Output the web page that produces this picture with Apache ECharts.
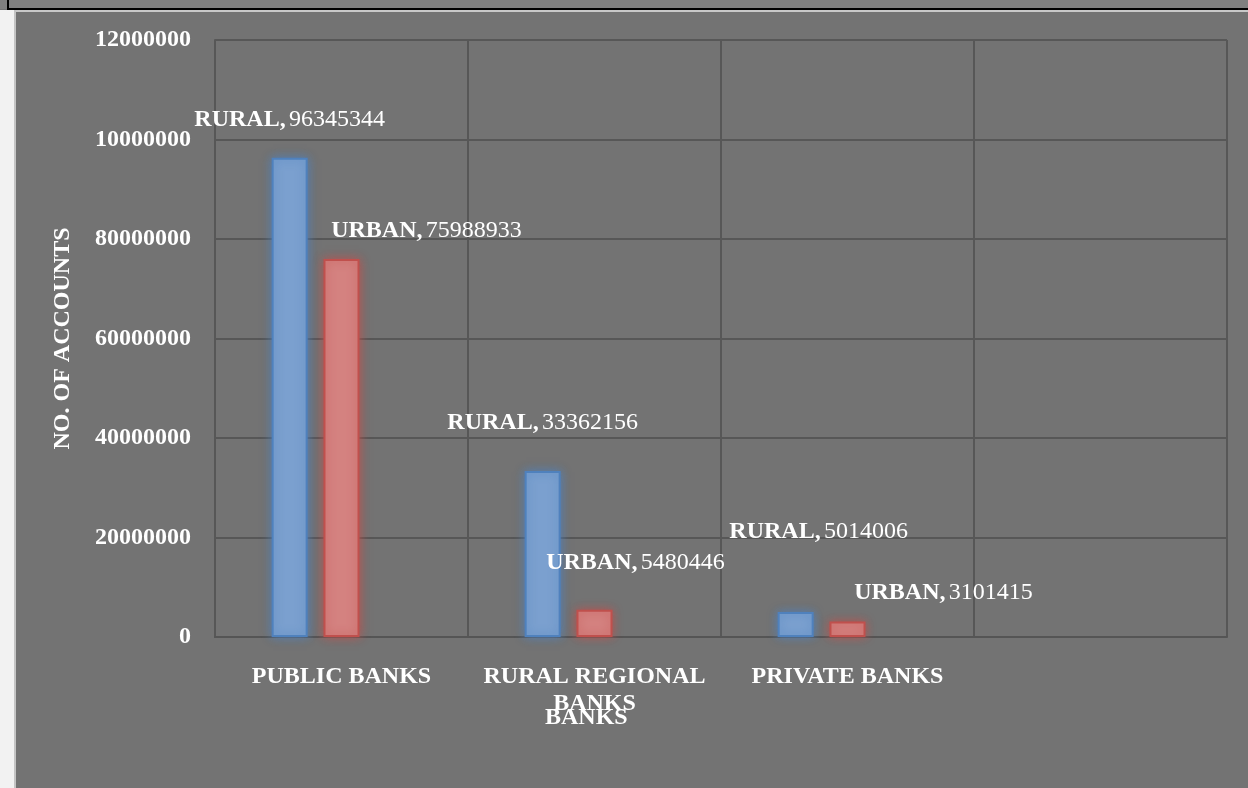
<!DOCTYPE html>
<html>
<head>
<meta charset="utf-8">
<script src="https://cdn.jsdelivr.net/npm/echarts@6/dist/echarts.min.js"></script>
<style>
  html, body { margin: 0; padding: 0; }
  body { width: 1248px; height: 788px; background: #737373; position: relative; overflow: hidden; }
  .top-strip { position: absolute; left: 0; top: 0; width: 1248px; height: 9px; background: #808080; }
  .top-line { position: absolute; left: 7px; top: 8px; width: 1241px; height: 2px; background: #000; }
  .top-vline { position: absolute; left: 7px; top: 0; width: 2px; height: 10px; background: #000; }
  .top-light { position: absolute; left: 14px; top: 10px; width: 1234px; height: 2px; background: #c8c8c8; }
  .left-strip { position: absolute; left: 0; top: 10px; width: 14px; height: 778px; background: #f2f2f2; }
  .left-light { position: absolute; left: 14px; top: 10px; width: 2px; height: 778px; background: #c4c4c4; }
  #chart { position: absolute; left: 0; top: 0; width: 1248px; height: 788px; }
</style>
</head>
<body>
<div class="top-strip"></div>
<div class="top-line"></div>
<div class="top-vline"></div>
<div class="top-light"></div>
<div class="left-strip"></div>
<div class="left-light"></div>
<div id="chart"></div>
<script>
const categories = ['PUBLIC BANKS', 'RURAL REGIONAL\nBANKS', 'PRIVATE BANKS', ''];
const ruralValues = [96345344, 33362156, 5014006, null];
const urbanValues = [75988933, 5480446, 3101415, null];
const emptyValues = [null, null, null, null];
const yTickLabels = ['0', '20000000', '40000000', '60000000', '80000000', '10000000', '12000000'];

// where the data labels were dragged to in the original
const ruralLabelOffsets = [[0, -21], [0, -31], [23, -63], [0, 0]];
const urbanLabelOffsets = [[85, -11], [41, -30], [96, -12], [0, 0]];

const serif = "'Liberation Serif', 'Times New Roman', serif";

const chart = echarts.init(document.getElementById('chart'));

const labelStyle = {
  show: true,
  position: 'top',
  distance: 5,
  formatter: p => '{n|' + p.seriesName + ',} {v|' + p.value + '}',
  rich: {
    n: { color: '#fff', fontFamily: serif, fontSize: 24, fontWeight: 'bold' },
    v: { color: '#fff', fontFamily: serif, fontSize: 24 }
  }
};

const withOffsets = (values, offsets) => values.map((v, i) => ({
  value: v,
  label: { offset: offsets[i] }
}));

const option = {
  backgroundColor: 'transparent',
  animation: false,
  grid: { left: 215, right: 21, top: 40, bottom: 151 },
  xAxis: {
    type: 'category',
    data: categories,
    axisTick: { show: false },
    axisLine: { lineStyle: { color: '#555', width: 2 } },
    splitLine: { show: true, lineStyle: { color: '#575757', width: 2 } },
    axisLabel: {
      color: '#fff', fontFamily: serif, fontSize: 24, fontWeight: 'bold',
      margin: 26, lineHeight: 27, interval: 0
    }
  },
  yAxis: {
    type: 'value',
    min: 0,
    max: 120000000,
    interval: 20000000,
    name: 'NO. OF ACCOUNTS',
    nameLocation: 'middle',
    nameRotate: 90,
    nameGap: 140,
    nameTextStyle: { color: '#fff', fontFamily: serif, fontSize: 24, fontWeight: 'bold' },
    axisLine: { show: true, lineStyle: { color: '#575757', width: 2 } },
    axisTick: { show: false },
    splitLine: { lineStyle: { color: '#575757', width: 2 } },
    axisLabel: {
      color: '#fff', fontFamily: serif, fontSize: 24, fontWeight: 'bold', margin: 24,
      formatter: v => yTickLabels[Math.round(v / 20000000)]
    }
  },
  series: [
    {
      name: 'RURAL',
      type: 'bar',
      barWidth: 36,
      barGap: '44%',
      data: withOffsets(ruralValues, ruralLabelOffsets),
      itemStyle: {
        color: '#7ba0cf', borderColor: '#4f81bd', borderWidth: 2,
        shadowColor: 'rgba(79,129,189,0.9)', shadowBlur: 10
      },
      label: labelStyle
    },
    {
      name: 'URBAN',
      type: 'bar',
      barWidth: 36,
      barGap: '44%',
      data: withOffsets(urbanValues, urbanLabelOffsets),
      itemStyle: {
        color: '#d48280', borderColor: '#c0504d', borderWidth: 2,
        shadowColor: 'rgba(192,80,77,0.9)', shadowBlur: 10
      },
      label: labelStyle
    },
    {
      name: '',
      type: 'bar',
      barWidth: 36,
      barGap: '44%',
      data: emptyValues
    }
  ],
  graphic: [
    {
      type: 'text',
      left: 586 - 41,
      top: 717 - 11,
      style: { text: 'BANKS', fill: '#fff', font: 'bold 24px ' + serif }
    }
  ]
};

chart.setOption(option);
</script>
</body>
</html>
